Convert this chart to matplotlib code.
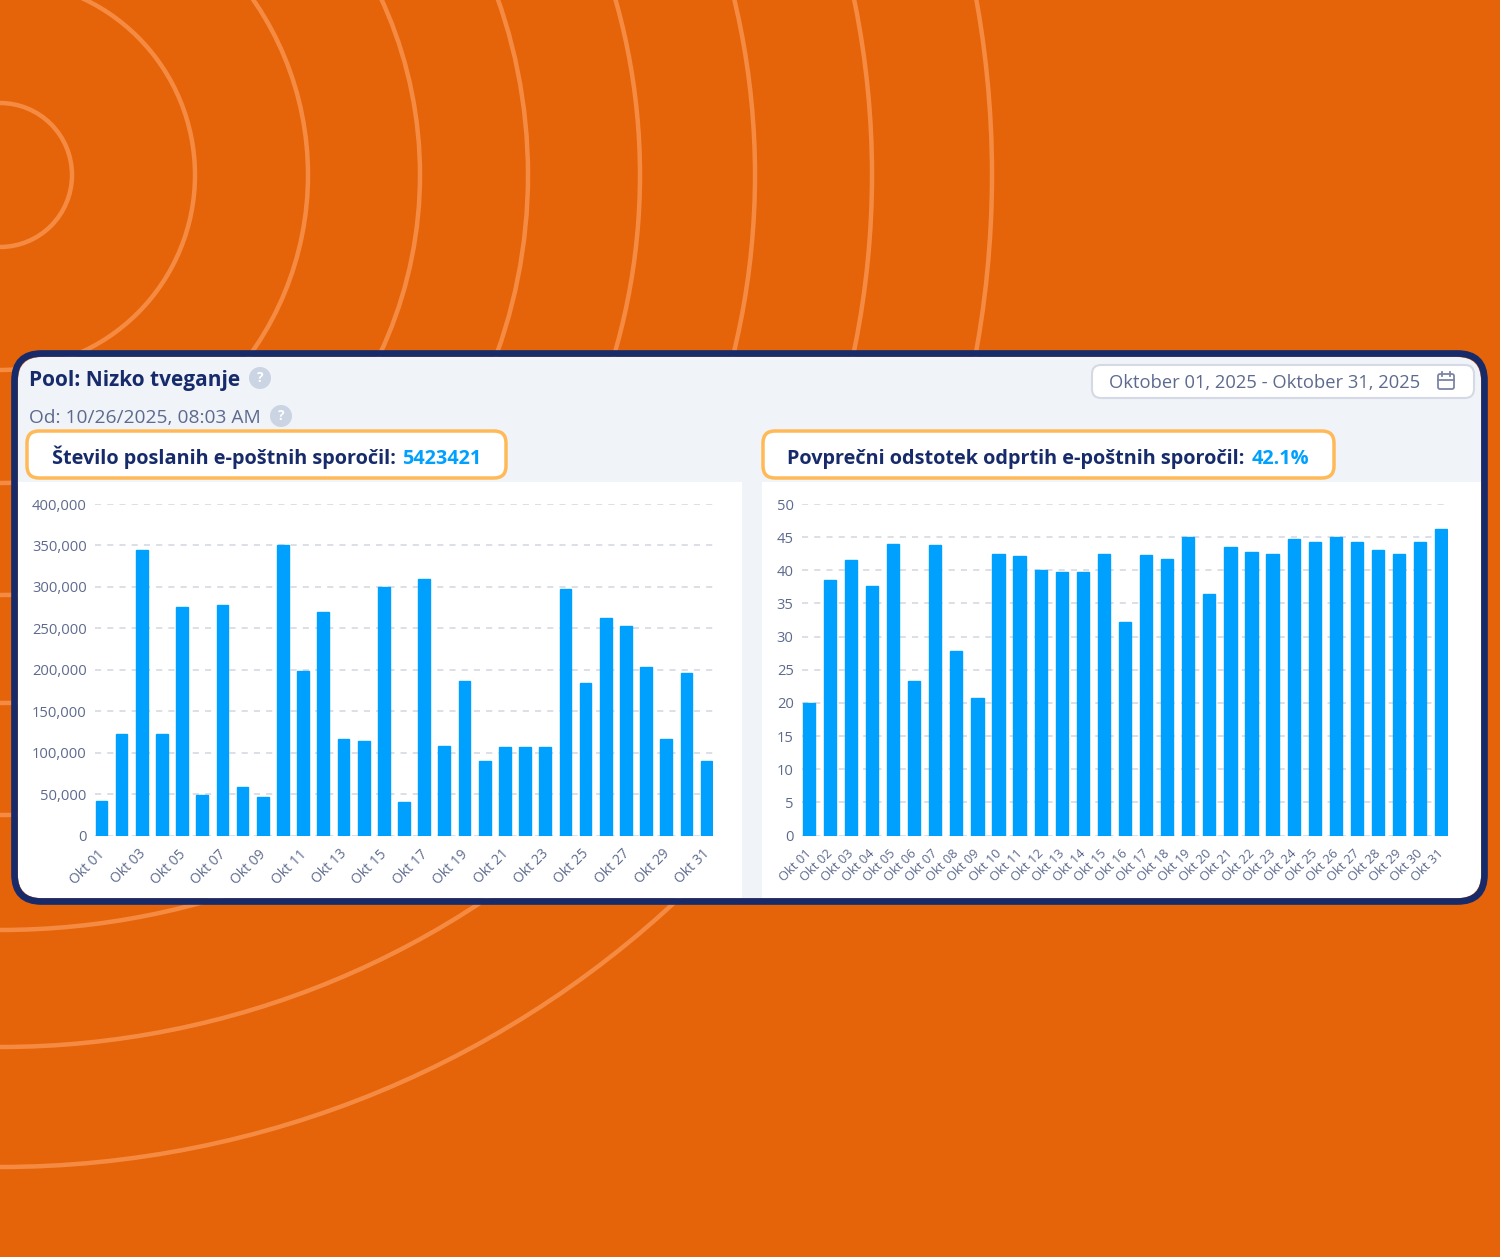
import matplotlib
matplotlib.use('Agg')
from matplotlib import pyplot as plt
from matplotlib import transforms
from matplotlib.patches import Circle, FancyBboxPatch, Rectangle
from matplotlib.ticker import FuncFormatter

plt.rcParams['font.family'] = ['Open Sans', 'Noto Sans', 'DejaVu Sans']

ORANGE = '#E5640A'
RING = '#F58B42'
NAVY = '#172B6B'
PANEL = '#F0F3F8'
BLUE = '#00A0FF'
GREY = '#5D6A8E'
GRID = '#D3D6E0'
BADGE = '#FFB957'

days = ['Okt %02d' % d for d in range(1, 32)]
sent = [42000, 122000, 344000, 122000, 276000, 49000, 278000, 59000, 46000, 350000, 198000,
        270000, 116000, 114000, 300000, 40000, 309000, 108000, 186000, 90000, 107000, 107000,
        107000, 298000, 184000, 263000, 253000, 203000, 116000, 196000, 90000]
opened = [20, 38.6, 41.5, 37.6, 44, 23.3, 43.8, 27.9, 20.8, 42.4, 42.2, 40, 39.7, 39.7, 42.4,
          32.2, 42.3, 41.7, 45, 36.4, 43.5, 42.7, 42.4, 44.7, 44.2, 45, 44.2, 43, 42.4, 44.2, 46.2]
sent_ticks = [0, 50000, 100000, 150000, 200000, 250000, 300000, 350000, 400000]
opened_ticks = [0, 5, 10, 15, 20, 25, 30, 35, 40, 45, 50]
ring_radii = [72, 195, 308, 420, 528, 640, 755, 872, 992]

fig = plt.figure(figsize=(15, 12.57), dpi=100, facecolor=ORANGE)

# pixel canvas for everything around the charts
bg = fig.add_axes([0, 0, 1, 1])
bg.set_xlim(0, 1500)
bg.set_ylim(1257, 0)
bg.axis('off')

for r in ring_radii:
    bg.add_patch(Circle((0, 175), r, fill=False, edgecolor=RING, lw=3.2))

inner = FancyBboxPatch((18, 357), 1463, 541, boxstyle='round,pad=0,rounding_size=24',
                       facecolor=PANEL, edgecolor='none', zorder=2)
bg.add_patch(inner)
for x0, x1 in [(18, 742), (762, 1481)]:
    white = Rectangle((x0, 482), x1 - x0, 416, facecolor='white', edgecolor='none', zorder=3)
    bg.add_patch(white)
    white.set_clip_path(inner)
bg.add_patch(FancyBboxPatch((14.5, 353.5), 1470, 548, boxstyle='round,pad=0,rounding_size=27',
                            facecolor='none', edgecolor=NAVY, lw=4.8, zorder=4))

bg.text(29, 386, 'Pool: Nizko tveganje', fontsize=15, fontweight='bold', color=NAVY,
        va='baseline', zorder=5)
bg.text(29, 423, 'Od: 10/26/2025, 08:03 AM', fontsize=13.8, color=GREY, va='baseline', zorder=5)
for cx, cy in [(260, 378), (281, 416)]:
    bg.add_patch(Circle((cx, cy), 11, facecolor='#CBD4E3', edgecolor='none', zorder=5))
    bg.text(cx, cy, '?', fontsize=10, fontweight='bold', color='white', ha='center',
            va='center', zorder=6)

# date picker
bg.add_patch(FancyBboxPatch((1092, 365), 382, 33, boxstyle='round,pad=0,rounding_size=9',
                            facecolor='white', edgecolor='#D5D9E5', lw=1.5, zorder=5))
bg.text(1109, 388, 'Oktober 01, 2025 - Oktober 31, 2025', fontsize=13.2, color=GREY,
        va='baseline', zorder=6)
bg.add_patch(FancyBboxPatch((1438, 374), 16, 15, boxstyle='round,pad=0,rounding_size=2',
                            facecolor='none', edgecolor='#7C86A3', lw=1.3, zorder=6))
bg.plot([1438, 1454], [379.5, 379.5], color='#7C86A3', lw=1.3, zorder=6)
bg.plot([1442, 1442], [371.5, 376], color='#7C86A3', lw=1.3, zorder=6)
bg.plot([1450, 1450], [371.5, 376], color='#7C86A3', lw=1.3, zorder=6)

# headline badges
bg.add_patch(FancyBboxPatch((27, 431), 479, 47, boxstyle='round,pad=0,rounding_size=12',
                            facecolor='white', edgecolor=BADGE, lw=2.5, zorder=5))
bg.text(52, 464, 'Število poslanih e-poštnih sporočil:', fontsize=14.35, fontweight='bold',
        color=NAVY, va='baseline', zorder=6)
bg.text(402, 464, '5423421', fontsize=14.35, fontweight='bold', color=BLUE, va='baseline', zorder=6)
bg.add_patch(FancyBboxPatch((763, 431), 571, 47, boxstyle='round,pad=0,rounding_size=12',
                            facecolor='white', edgecolor=BADGE, lw=2.5, zorder=5))
bg.text(787, 464, 'Povprečni odstotek odprtih e-poštnih sporočil:', fontsize=14.35,
        fontweight='bold', color=NAVY, va='baseline', zorder=6)
bg.text(1252, 464, '42.1%', fontsize=14.35, fontweight='bold', color=BLUE, va='baseline', zorder=6)


def bar_chart(box, values, ticks, step, label_size):
    x0, x1, top, bottom = box
    ax = fig.add_axes([x0 / 1500, 1 - bottom / 1257, (x1 - x0) / 1500, (bottom - top) / 1257])
    ax.patch.set_alpha(0)
    ax.bar(range(31), values, width=0.58, color=BLUE, edgecolor=BLUE, lw=1, zorder=3)
    ax.set_xlim(-0.32, 30.32)
    ax.set_ylim(ticks[0], ticks[-1])
    ax.set_yticks(ticks)
    ax.set_xticks(range(0, 31, step))
    ax.set_xticklabels(days[::step], rotation=45, ha='right', va='top', rotation_mode='anchor')
    ax.tick_params(axis='both', length=0, colors=GREY)
    ax.tick_params(axis='y', labelsize=10.6, pad=6)
    ax.tick_params(axis='x', labelsize=label_size, pad=8)
    ax.grid(axis='y', color=GRID, lw=1.1, linestyle=(0, (4, 4)), zorder=0)
    for s in ax.spines.values():
        s.set_visible(False)
    # labels sit a little left of their ticks
    shift = transforms.ScaledTranslation(-4 / 100, 0, fig.dpi_scale_trans)
    for lab in ax.get_xticklabels():
        lab.set_transform(lab.get_transform() + shift)
    return ax


ax1 = bar_chart((95, 713, 504, 835.5), sent, sent_ticks, 2, 10)
ax1.yaxis.set_major_formatter(FuncFormatter(lambda v, p: format(int(v), ',')))
ax2 = bar_chart((802, 1448, 504, 835.5), opened, opened_ticks, 1, 9.3)

fig.savefig('out.png', dpi=100, facecolor=ORANGE)
